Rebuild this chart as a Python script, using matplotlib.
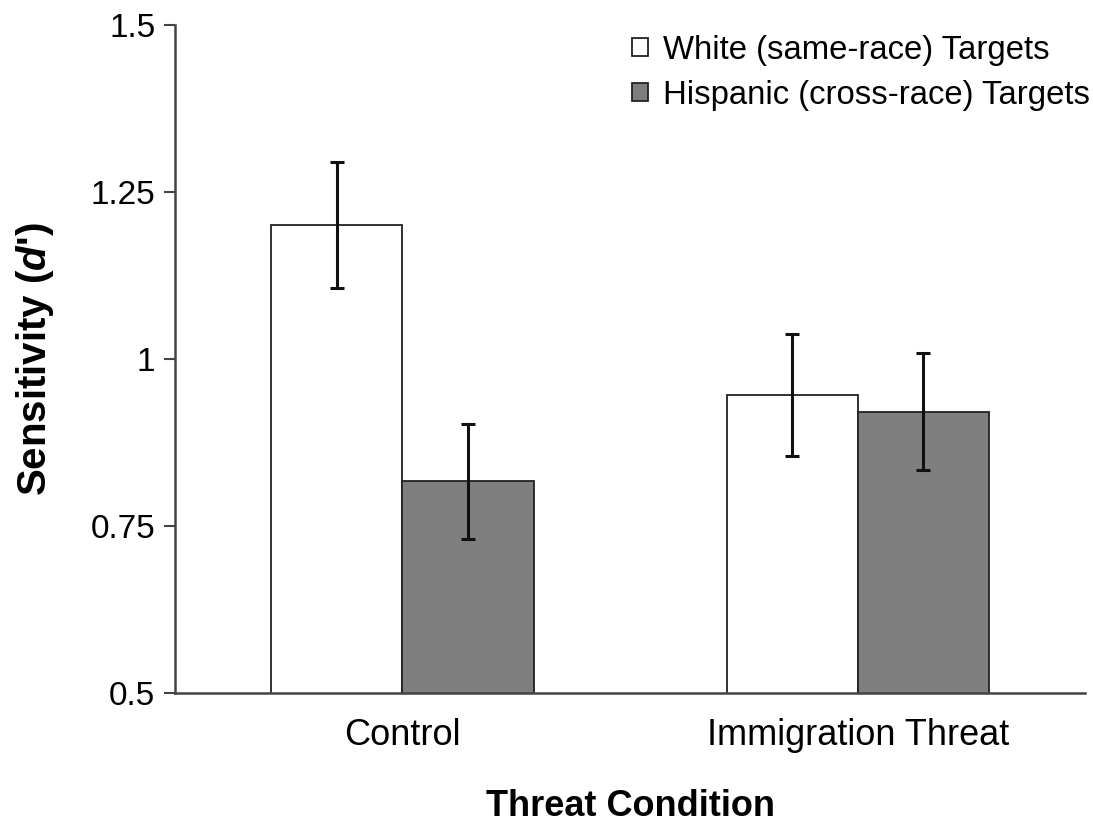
import matplotlib
matplotlib.use("Agg")
import matplotlib.pyplot as plt
import numpy as np
from matplotlib.patches import Patch

plt.rcParams["font.family"] = ["Liberation Sans", "DejaVu Sans"]
plt.rcParams["mathtext.fontset"] = "custom"
plt.rcParams["mathtext.rm"] = "Liberation Sans"
plt.rcParams["mathtext.bfit"] = "Liberation Sans:bold:italic"

# data
conditions = ["Control", "Immigration Threat"]
series = ["White (same-race) Targets", "Hispanic (cross-race) Targets"]
white_means = [1.20, 0.946]
white_err = [0.094, 0.091]
hisp_means = [0.817, 0.921]
hisp_err = [0.086, 0.088]
colors = ["white", "#7f7f7f"]

fig = plt.figure(figsize=(10.93, 8.22), dpi=100)
ax = fig.add_axes([0.160, 0.157, 0.833, 0.813])

x = np.arange(len(conditions))
w = 0.288
ax.bar(x - w / 2, white_means, w, color=colors[0], edgecolor="#222222",
       linewidth=1.3, zorder=2)
ax.bar(x + w / 2, hisp_means, w, color=colors[1], edgecolor="#222222",
       linewidth=1.3, zorder=2)
ax.errorbar(x - w / 2, white_means, yerr=white_err, fmt="none", ecolor="#111111",
            elinewidth=2.2, capsize=4.7, capthick=2.2, zorder=3)
ax.errorbar(x + w / 2, hisp_means, yerr=hisp_err, fmt="none", ecolor="#111111",
            elinewidth=2.2, capsize=4.7, capthick=2.2, zorder=3)

ax.set_xlim(-0.5, 1.5)
ax.set_ylim(0.5, 1.5)
ax.set_yticks([0.5, 0.75, 1.0, 1.25, 1.5])
ax.set_yticklabels(["0.5", "0.75", "1", "1.25", "1.5"], fontsize=24)
ax.set_xticks(x)
ax.set_xticklabels(conditions, fontsize=26)
ax.tick_params(axis="x", length=0, pad=18)
ax.tick_params(axis="y", direction="out", length=8, width=1.5, color="#444444", pad=6)

for s in ["top", "right"]:
    ax.spines[s].set_visible(False)
for s in ["left", "bottom"]:
    ax.spines[s].set_color("#444444")
    ax.spines[s].set_linewidth(1.8)

ax.set_xlabel("Threat Condition", fontsize=26, fontweight="bold", labelpad=26)
ax.set_ylabel(r"Sensitivity ($\mathbfit{d}$')", fontsize=29, fontweight="bold", labelpad=25)

handles = [Patch(facecolor=c, edgecolor="#222222", linewidth=1.3) for c in colors]
ax.legend(handles, series, loc="upper right", bbox_to_anchor=(1.0055, 0.985), frameon=False,
          fontsize=23.7, handlelength=0.47, handleheight=0.47, handletextpad=0.47,
          labelspacing=0.42, borderpad=0, borderaxespad=0)

fig.savefig("out.png", dpi=100)
